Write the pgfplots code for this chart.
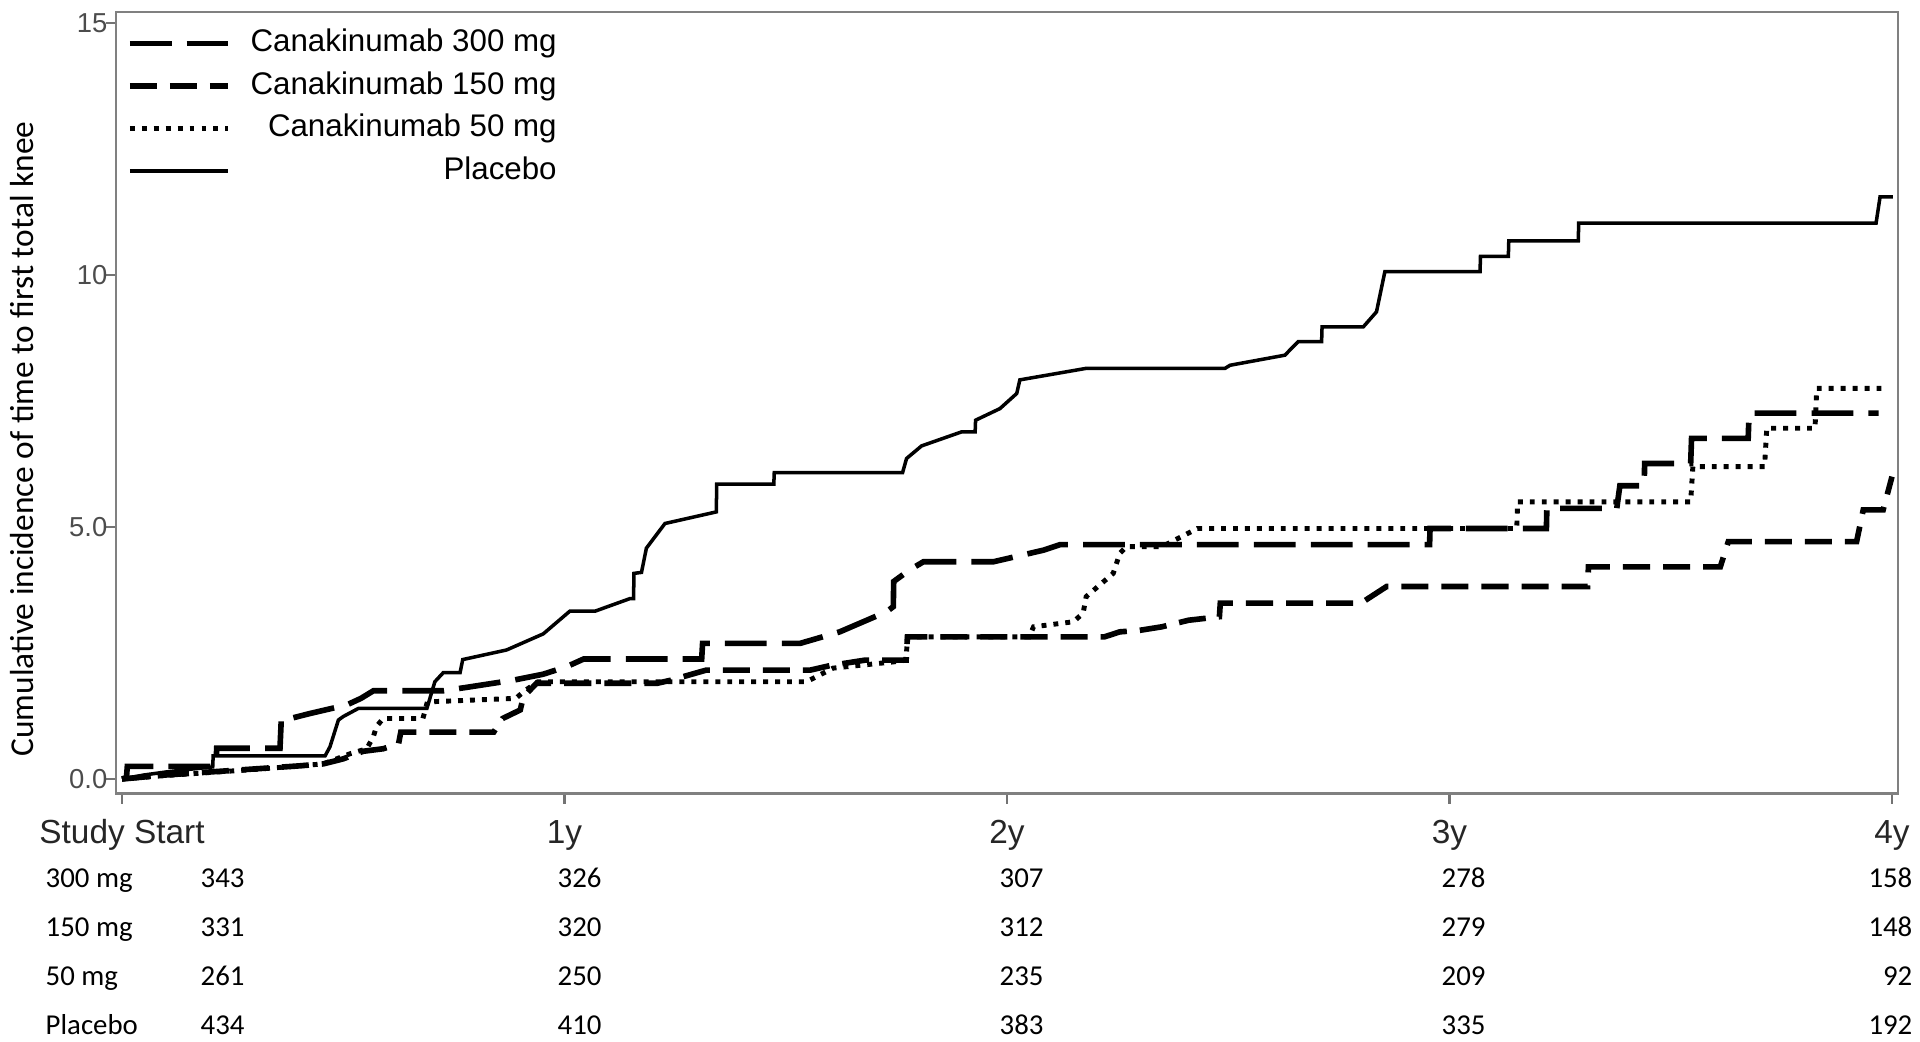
\documentclass[border=0pt]{standalone}
\usepackage{fontspec}
\setmainfont{Liberation Sans}
\newfontfamily\calib{Carlito}
\usepackage{pgfplots}
\pgfplotsset{compat=1.18}
\begin{document}
\begin{tikzpicture}[x=1cm,y=1cm]
\useasboundingbox (0,0) rectangle (19.2,10.41);
\begin{axis}[
  at={(1.16cm,2.475cm)}, anchor=south west,
  scale only axis, width=17.82cm, height=7.815cm,
  xmin=-0.0136, xmax=4.0136, ymin=-0.288, ymax=15.22,
  axis line style={black!50, line width=0.7pt},
  xtick={0,1,2,3,4}, xticklabels={Study Start,1y,2y,3y,4y},
  ytick={0,5,10,15}, yticklabels={0.0,5.0,10,15},
  tick align=outside, tick pos=left, major tick length=0.1cm,
  tick style={black!55, line width=0.6pt},
  xticklabel style={font=\fontsize{9.5}{11}\selectfont, black!85, anchor=base, inner sep=0pt, yshift=-0.395cm},
  yticklabel style={font=\fontsize{7.8}{9}\selectfont, black!70, anchor=east, inner sep=0pt, xshift=0.02cm},
  ylabel={Cumulative incidence of time to first total knee},
  every axis y label/.style={at={(axis description cs:-0.0527,0.4536)}, rotate=90, anchor=center, font=\calib\fontsize{9.5}{11}\selectfont},
  legend style={at={(axis description cs:0,1)}, anchor=north west, xshift=0.11cm, yshift=-0.16cm,
    draw=none, fill=none, inner sep=0pt, outer sep=0pt, row sep=3.2pt, column sep=0.20cm,
    font=\fontsize{8.9}{10}\selectfont,
    nodes={inner sep=0pt, text height=6.7pt, text depth=2.2pt}},
  legend cell align=right,
  legend image code/.code={\draw[#1] (0cm,0cm) -- (0.98cm,0cm);},
  every axis plot/.append style={line cap=butt, line join=miter},
]
% Canakinumab 300 mg
\addplot[black, line width=1.6pt, dash pattern=on 11.9pt off 4.3pt] coordinates {
(0,0) (0.010,0.03) (0.012,0.25) (0.212,0.25) (0.214,0.61) (0.357,0.61) (0.360,1.20) (0.380,1.20)
(0.425,1.30) (0.508,1.47) (0.540,1.60) (0.568,1.75) (0.726,1.75) (0.780,1.82) (0.839,1.90)
(0.884,1.96) (0.952,2.08) (1.005,2.23) (1.043,2.38) (1.310,2.38) (1.312,2.69) (1.532,2.69)
(1.622,2.92) (1.728,3.32) (1.743,3.42) (1.744,3.92) (1.780,4.15) (1.811,4.31) (1.969,4.31)
(2.082,4.54) (2.120,4.65) (2.955,4.65) (2.956,4.97) (3.219,4.97) (3.220,5.37) (3.378,5.37)
(3.385,5.82) (3.440,5.82) (3.441,6.26) (3.545,6.26) (3.547,6.76) (3.675,6.76) (3.677,7.26) (3.970,7.26)
};
\addlegendentry{Canakinumab 300 mg}
% Canakinumab 150 mg
\addplot[black, line width=1.6pt, dash pattern=on 7.7pt off 3.7pt] coordinates {
(0,0) (0.100,0.08) (0.200,0.14) (0.300,0.20) (0.400,0.26) (0.455,0.30) (0.500,0.40) (0.545,0.55)
(0.590,0.60) (0.625,0.70) (0.630,0.93) (0.840,0.93) (0.860,1.20) (0.900,1.37) (0.907,1.63)
(0.937,1.90) (1.210,1.90) (1.240,1.96) (1.280,2.06) (1.320,2.16) (1.555,2.16) (1.600,2.25)
(1.680,2.36) (1.772,2.36) (1.775,2.82) (2.220,2.82) (2.255,2.92) (2.300,2.95) (2.350,3.02)
(2.410,3.15) (2.480,3.22) (2.482,3.49) (2.800,3.49) (2.858,3.82) (3.312,3.82) (3.314,4.21)
(3.612,4.21) (3.630,4.71) (3.920,4.71) (3.935,5.34) (3.980,5.34) (4.000,6.00)
};
\addlegendentry{Canakinumab 150 mg}
% Canakinumab 50 mg
\addplot[black, line width=1.4pt, dash pattern=on 1.4pt off 2.0pt] coordinates {
(0,0) (0.100,0.07) (0.200,0.13) (0.300,0.19) (0.400,0.26) (0.455,0.30) (0.515,0.50) (0.553,0.60)
(0.568,0.84) (0.575,1.04) (0.590,1.20) (0.680,1.20) (0.690,1.53) (0.890,1.60) (0.910,1.75)
(0.940,1.93) (1.547,1.93) (1.607,2.20) (1.750,2.33) (1.772,2.36) (1.775,2.82) (2.050,2.82)
(2.060,3.02) (2.150,3.12) (2.172,3.29) (2.179,3.62) (2.240,4.08) (2.255,4.48) (2.270,4.61)
(2.350,4.61) (2.430,4.97) (3.152,4.97) (3.154,5.50) (3.545,5.50) (3.550,6.20) (3.712,6.20)
(3.717,6.96) (3.826,6.96) (3.830,7.75) (3.990,7.75)
};
\addlegendentry{Canakinumab 50 mg}
% Placebo
\addplot[black, line width=1.0pt] coordinates {
(0,0) (0.050,0.08) (0.100,0.14) (0.150,0.19) (0.205,0.24) (0.206,0.46) (0.459,0.46) (0.470,0.64)
(0.489,1.17) (0.500,1.24) (0.534,1.40) (0.689,1.40) (0.707,1.93) (0.726,2.11) (0.764,2.11)
(0.770,2.37) (0.869,2.56) (0.952,2.88) (1.012,3.33) (1.069,3.33) (1.148,3.58) (1.156,3.58)
(1.157,4.08) (1.174,4.10) (1.185,4.58) (1.227,5.07) (1.343,5.30) (1.344,5.85) (1.473,5.85)
(1.474,6.08) (1.764,6.08) (1.773,6.36) (1.807,6.61) (1.898,6.89) (1.928,6.89) (1.929,7.12)
(1.984,7.35) (2.022,7.65) (2.029,7.92) (2.180,8.15) (2.493,8.15) (2.504,8.21) (2.628,8.41)
(2.658,8.68) (2.711,8.68) (2.712,8.97) (2.805,8.97) (2.835,9.27) (2.854,10.07) (3.069,10.07)
(3.070,10.37) (3.133,10.37) (3.134,10.68) (3.291,10.68) (3.292,11.03) (3.964,11.03) (3.973,11.55) (4.002,11.55)
};
\addlegendentry{Placebo}
\end{axis}
% number at risk table
\begin{scope}[every node/.style={font=\calib\fontsize{8.2}{10}\selectfont, inner sep=0pt}]
\foreach \lab/\a/\b/\c/\d/\e/\yy in {300 mg/343/326/307/278/158/1.54, 150 mg/331/320/312/279/148/1.05, 50 mg/261/250/235/209/92/0.56, Placebo/434/410/383/335/192/0.07}{
  \node[anchor=base west] at (0.45,\yy) {\lab};
  \node[anchor=base west] at (2.00,\yy) {\a};
  \node[anchor=base west] at (5.57,\yy) {\b};
  \node[anchor=base west] at (9.99,\yy) {\c};
  \node[anchor=base west] at (14.41,\yy) {\d};
  \node[anchor=base east] at (19.13,\yy) {\e};
}
\end{scope}
\end{tikzpicture}
\end{document}
